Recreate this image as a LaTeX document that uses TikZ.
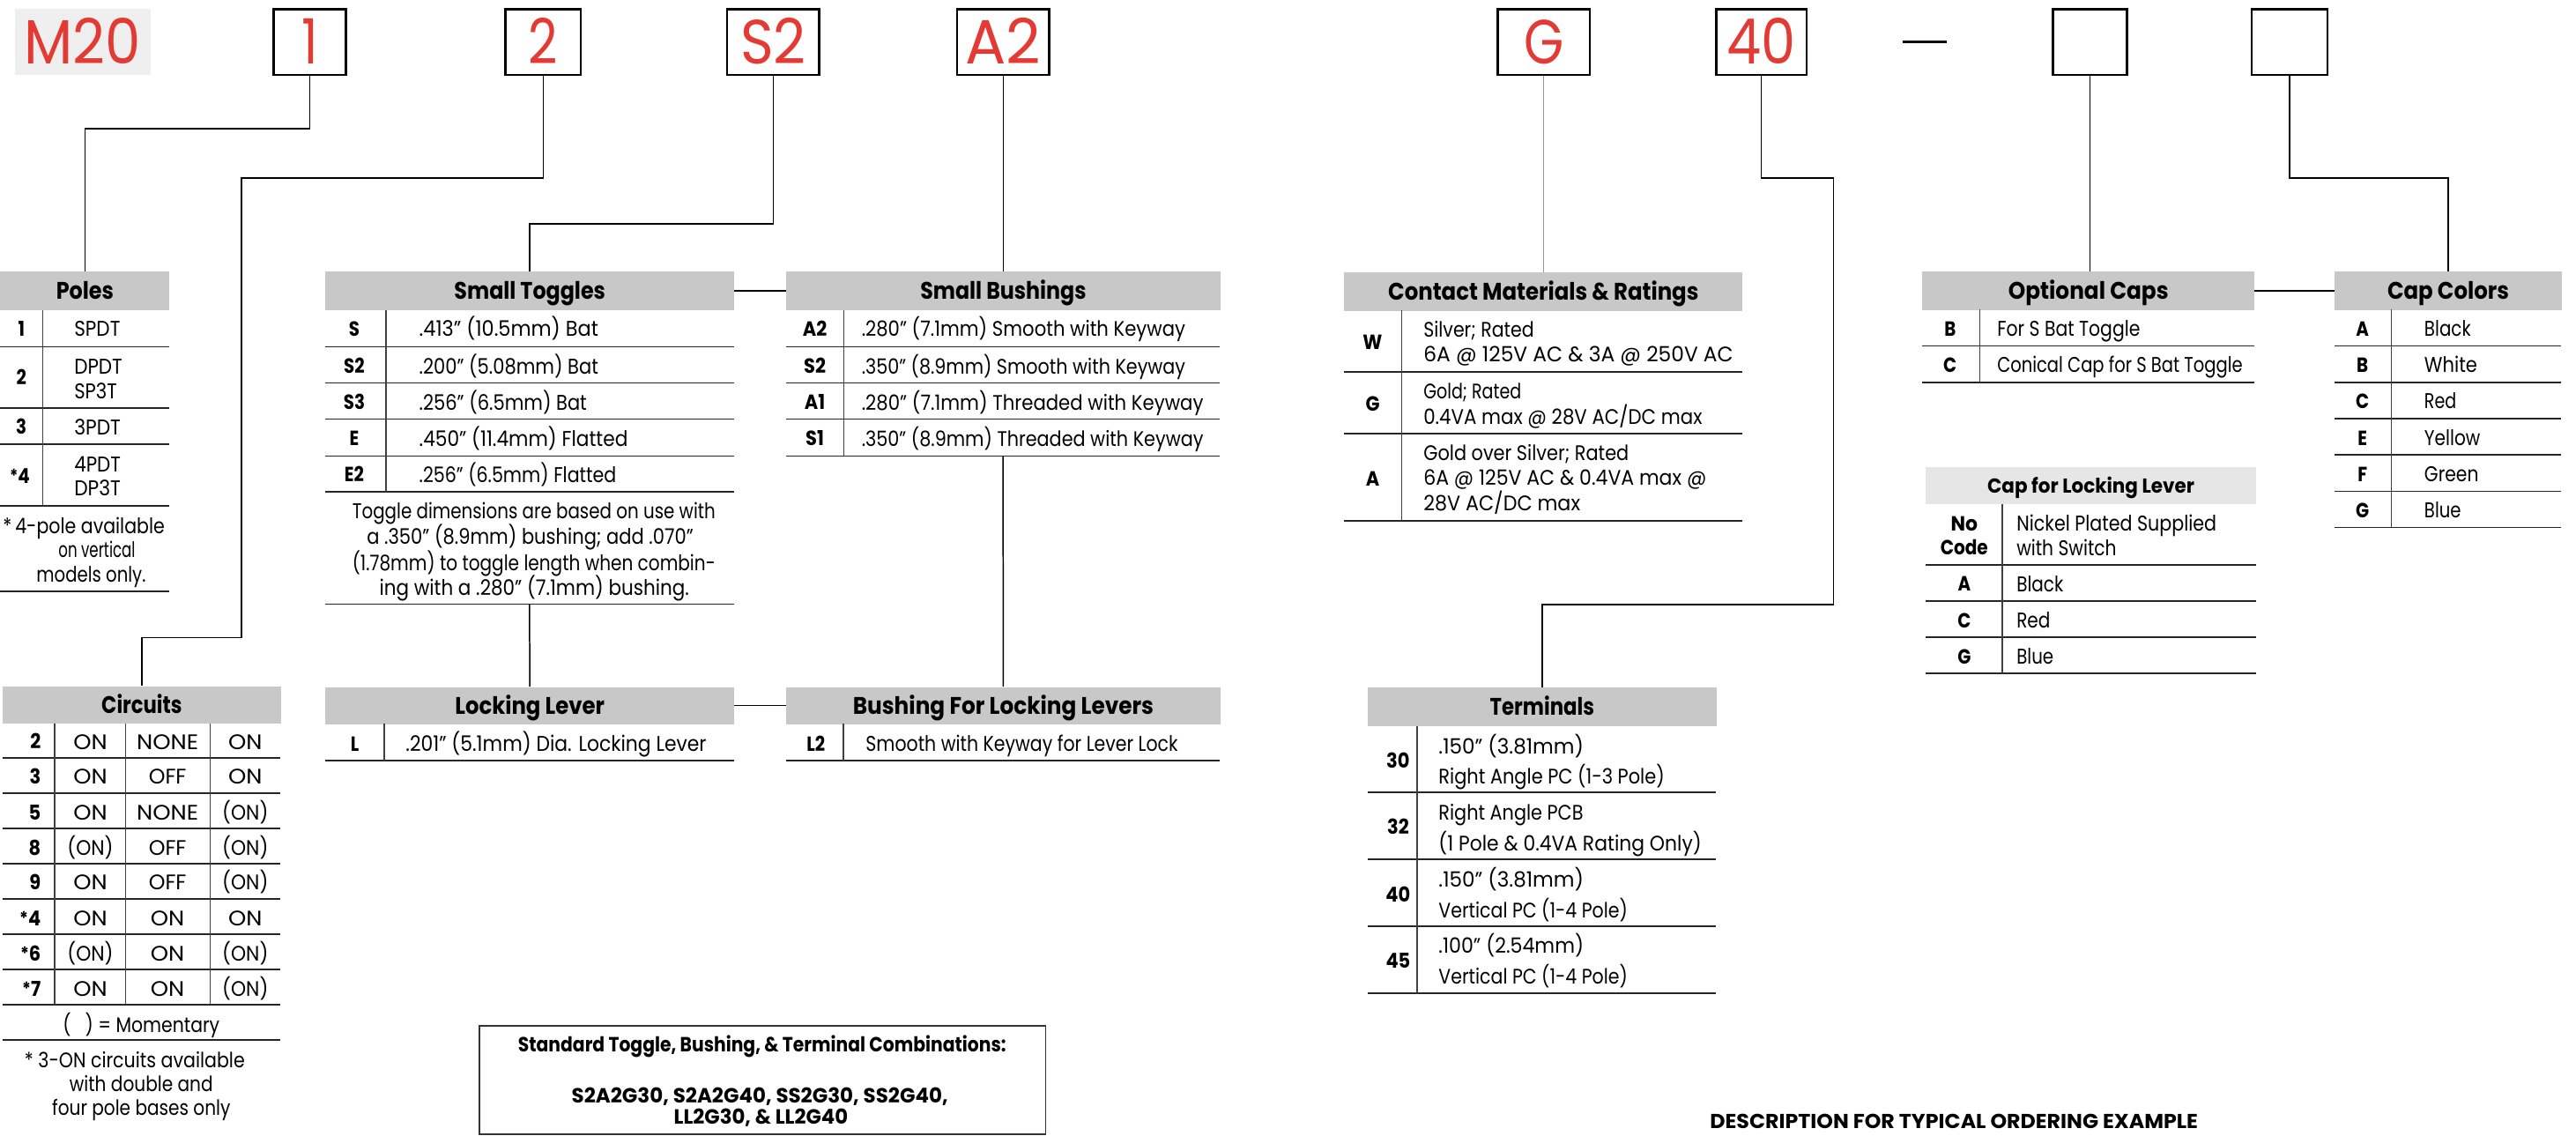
\documentclass[tikz,border=0pt]{standalone}
\usepackage{fontspec}
\usepackage{graphicx}
\setmainfont{Poppins}
\newfontfamily\fN[FakeStretch=0.9]{Poppins}
\newfontfamily\fC[FakeStretch=0.85]{Poppins}
\newfontfamily\fR[FakeStretch=0.82]{Poppins}
\newcommand\dq{\iffontchar\font"2033 \char"2033\else ”\fi}
\newcommand\stA{\raisebox{0.5pt}{\fontsize{11}{11}\selectfont*}}
\newsavebox\fitbx
\newcommand\fitw[2]{\sbox\fitbx{#2}\pgfmathsetmacro\fitr{#1/\the\wd\fitbx}\scalebox{\fitr}[1]{\usebox\fitbx}}
\newcommand\cON{\fitw{20.6}{ON}}
\newcommand\cNONE{\fitw{37.6}{NONE}}
\newcommand\cOFF{\fitw{22.9}{OFF}}
\newcommand\cPON{\fitw{28}{(ON)}}
\definecolor{hdrgray}{RGB}{200,200,200}
\definecolor{hdrlight}{RGB}{230,230,230}
\definecolor{mbg}{RGB}{239,239,239}
\definecolor{cred}{RGB}{228,58,52}
\definecolor{lgray}{RGB}{150,150,150}
\tikzset{
  topbox/.style={draw=black, line width=1.3pt, minimum height=40pt, inner sep=0pt, anchor=north west, font=\fontsize{38}{38}\fR, text=cred, text height=26.5pt, text depth=0pt},
  hdr/.style={fill=hdrgray, inner sep=0pt, anchor=north west, minimum height=23.5pt, font=\fontsize{14.6}{14.6}\fC\bfseries, text height=10.2pt, text depth=0pt},
  hdrN/.style={hdr, font=\fontsize{14.6}{14.6}\fN\bfseries},
  code/.style={inner sep=0pt, font=\fontsize{12.5}{12.5}\fC\bfseries, text height=8.8pt, text depth=0pt},
  codeN/.style={code, font=\fontsize{12.5}{12.5}\fN\bfseries},
  dC/.style={inner sep=0pt, anchor=west, font=\fontsize{13}{13}\fC, text height=9.1pt, text depth=0pt},
  dN/.style={inner sep=0pt, anchor=west, font=\fontsize{12.8}{12.8}\fN, text height=9pt, text depth=0pt},
  rl/.style={line width=0.9pt, black!85},
  dv/.style={line width=0.8pt, black!75},
  conn/.style={line width=0.8pt, black},
}
\begin{document}
\begin{tikzpicture}[x=1pt,y=-1pt]
\useasboundingbox (0,0) rectangle (1568,691);
\fill[white] (0,0) rectangle (1568,691);

% ---------- top row ----------
\node[topbox, draw=none, fill=mbg, minimum width=82.5pt, minimum height=40.2pt] (m20) at (8.5,4.8) {\fitw{71}{M20}};
\node[topbox, minimum width=44pt] (b1) at (166,5) {1};
\node[topbox, minimum width=46pt] (b2) at (307,5) {2};
\node[topbox, minimum width=56pt] (bS2) at (442,5) {\fitw{40}{S2}};
\node[topbox, minimum width=56pt] (bA2) at (582,5) {\fitw{46}{A2}};
\node[topbox, minimum width=56pt] (bG) at (911,5) {G};
\node[topbox, minimum width=55pt] (b40) at (1044,5) {\fitw{42}{40}};
\node[inner sep=0pt] (dash) at (1171.5,25.6) {\rule{27pt}{1.6pt}};
\node[topbox, minimum width=45pt] (bX1) at (1249,5) {};
\node[topbox, minimum width=46pt] (bX2) at (1370,5) {};

% ---------- headers ----------
\node[hdr, minimum width=103pt] (hPoles) at (0,165) {\fitw{35}{Poles}};
\node[hdr, minimum width=248.6pt] (hTog) at (198,165) {\fitw{92}{Small Toggles}};
\node[hdrN, minimum width=264pt] (hBush) at (478.5,165) {\fitw{101}{Small Bushings}};
\node[hdrN, minimum width=242.5pt, minimum height=23.2pt] (hCon) at (818,165.8) {\fitw{189}{Contact Materials \& Ratings}};
\node[hdr, minimum width=202pt] (hOpt) at (1170,165) {\fitw{97.5}{Optional Caps}};
\node[hdr, minimum width=138pt] (hCol) at (1421,165) {\fitw{74}{Cap Colors}};
\node[hdr, fill=hdrlight, minimum width=201pt, minimum height=22.3pt, font=\fontsize{12.3}{12.3}\fC\bfseries, text height=8.6pt] (hCapL) at (1172,284.3) {\fitw{126}{Cap for Locking Lever}};
\node[hdrN, minimum width=169.4pt, minimum height=22.8pt] (hCir) at (1.4,417.5) {\fitw{49}{Circuits}};
\node[hdr, minimum width=248.6pt, minimum height=22.5pt] (hLock) at (198,418) {\fitw{91}{Locking Lever}};
\node[hdr, minimum width=264pt, minimum height=22.5pt] (hLB) at (478.5,418) {\fitw{183}{Bushing For Locking Levers}};
\node[hdrN, minimum width=212pt, minimum height=23.6pt] (hTer) at (832.5,418.4) {\fitw{63.5}{Terminals}};

% ---------- connectors ----------
\coordinate (j2) at (147,388);
\coordinate (j40) at (1116,368);
\coordinate (tglBot) at (322.3,367.8);
\coordinate (bushBot) at (610.5,277.6);
\draw[conn] (b1.south) -- ++(0,32) -| (hPoles.north);
\draw[conn] (b2.south) -- ++(0,62) -| (j2) -| (hCir.north);
\draw[conn] (bS2.south) -- ++(0,90) -| (hTog.north);
\draw[conn] (bA2.south) -- (bA2.south |- hBush.north);
\draw[conn, lgray, line width=0.6pt] (bG.south) -- (bG.south |- hCon.north);
\draw[conn] (b40.south) -- ++(0,62) -| (j40) -| (hTer.north);
\draw[conn] (bX1.south) -- (bX1.south |- hOpt.north);
\draw[conn] (bX2.south) -- ++(0,62) -| (hCol.north);
\draw[conn] (hTog.east) -- (hBush.west);
\draw[conn] (hOpt.east) -- (hCol.west);
\draw[conn] (hLock.east) -- (hLB.west);
\draw[conn] (tglBot) -- (hLock.north);
\draw[conn] (bushBot) -- (hLB.north);

% ---------- Poles ----------
\node[code] (p1c) at (13,200) {1};
\node[dC] (p1d) at (45,200) {\fitw{28}{SPDT}};
\draw[rl] (0,211) -- (103,211);
\node[code] (p2c) at (13,230) {2};
\node[dC] (p2d) at (45,223) {\fitw{29.3}{DPDT}};
\node[dC] (p2e) at (45,238) {\fitw{26}{SP3T}};
\draw[rl] (0,248.5) -- (103,248.5);
\node[code] (p3c) at (13,260) {3};
\node[dC] (p3d) at (45,260) {\fitw{28.3}{3PDT}};
\draw[rl] (0,270.4) -- (103,270.4);
\node[code] (p4c) at (12,290) {\stA4};
\node[dC] (p4d) at (45,282.6) {\fitw{28.3}{4PDT}};
\node[dC] (p4e) at (45,297.4) {\fitw{28.3}{DP3T}};
\draw[rl] (0,308) -- (103,308);
\draw[dv] (26,188.7) -- (26,308);
\node[dC, anchor=center] (pn1) at (51,320) {\fitw{98.5}{*\,4-pole available}};
\node[dC, anchor=center] (pn2) at (59,335) {\fitw{46.8}{on vertical}};
\node[dC, anchor=center] (pn3) at (55.5,350) {\fitw{66.5}{models only.}};
\draw[rl] (0,360) -- (103,360);

% ---------- Small Toggles ----------
\node[code] (t1c) at (215.6,200) {S};
\node[dC] (t1d) at (255,200) {\fitw{109}{.413\dq{} (10.5mm) Bat}};
\node[code] (t2c) at (215.6,223) {S2};
\node[dC] (t2d) at (255,223) {\fitw{109}{.200\dq{} (5.08mm) Bat}};
\node[code] (t3c) at (215.6,245) {S3};
\node[dC] (t3d) at (255,245) {\fitw{102}{.256\dq{} (6.5mm) Bat}};
\node[code] (t4c) at (215.6,267) {E};
\node[dC] (t4d) at (255,267) {\fitw{127}{.450\dq{} (11.4mm) Flatted}};
\node[code] (t5c) at (215.6,289) {E2};
\node[dC] (t5d) at (255,289) {\fitw{120}{.256\dq{} (6.5mm) Flatted}};
\foreach \yy in {211,233,255,277.6,299.5} \draw[rl] (198,\yy) -- (446.6,\yy);
\draw[dv] (235,188.7) -- (235,299.5);
\node[dC, anchor=center] (tn1) at (325,311.3) {\fitw{221}{Toggle dimensions are based on use with}};
\node[dC, anchor=center] (tn2) at (322.7,326.8) {\fitw{198.7}{a .350\dq{} (8.9mm) bushing; add .070\dq}};
\node[dC, anchor=center] (tn3) at (325,342.6) {\fitw{221}{(1.78mm) to toggle length when combin-}};
\node[dC, anchor=center] (tn4) at (325.2,357.8) {\fitw{188.5}{ing with a .280\dq{} (7.1mm) bushing.}};
\draw[rl] (198,367.8) -- (446.6,367.8);

% ---------- Small Bushings ----------
\node[codeN] (s1c) at (496,200) {A2};
\node[dN] (s1d) at (524.3,200) {\fitw{197}{.280\dq{} (7.1mm) Smooth with Keyway}};
\node[codeN] (s2c) at (496,223) {S2};
\node[dN] (s2d) at (524.3,223) {\fitw{197}{.350\dq{} (8.9mm) Smooth with Keyway}};
\node[codeN] (s3c) at (496,245) {A1};
\node[dN] (s3d) at (524.3,245) {\fitw{208}{.280\dq{} (7.1mm) Threaded with Keyway}};
\node[codeN] (s4c) at (496,267) {S1};
\node[dN] (s4d) at (524.3,267) {\fitw{208}{.350\dq{} (8.9mm) Threaded with Keyway}};
\foreach \yy in {211,233,255,277.6} \draw[rl] (478.5,\yy) -- (742.4,\yy);
\draw[dv] (513.5,188.7) -- (513.5,277.6);

% ---------- Contact Materials ----------
\node[codeN] (k1c) at (835.5,208.3) {W};
\node[dN] (k1d) at (866.3,200.8) {\fitw{67.3}{Silver; Rated}};
\node[dN] (k1e) at (866.3,215.8) {\fitw{188.5}{6A @ 125V AC \& 3A @ 250V AC}};
\node[codeN] (k2c) at (835.5,246) {G};
\node[dN] (k2d) at (866.3,238.4) {\fitw{59.5}{Gold; Rated}};
\node[dN] (k2e) at (866.3,253.6) {\fitw{169.6}{0.4VA max @ 28V AC/DC max}};
\node[codeN] (k3c) at (835.5,291.5) {A};
\node[dN] (k3d) at (866.3,275.7) {\fitw{125}{Gold over Silver; Rated}};
\node[dN] (k3e) at (866.3,291) {\fitw{172.2}{6A @ 125V AC \& 0.4VA max @}};
\node[dN] (k3f) at (866.3,306.6) {\fitw{95.4}{28V AC/DC max}};
\foreach \yy in {226.5,264,317} \draw[rl] (818,\yy) -- (1060.5,\yy);
\draw[dv] (853.3,189) -- (853.3,317);

% ---------- Optional Caps ----------
\node[code] (o1c) at (1187,200.3) {B};
\node[dC] (o1d) at (1215.5,200.3) {\fitw{87}{For S Bat Toggle}};
\node[code] (o2c) at (1187,222.2) {C};
\node[dC] (o2d) at (1215.5,222.2) {\fitw{149.4}{Conical Cap for S Bat Toggle}};
\foreach \yy in {210.6,232.8} \draw[rl] (1170,\yy) -- (1372,\yy);
\draw[dv] (1205,188.5) -- (1205,232.8);

% ---------- Cap Colors ----------
\foreach \yy/\cc/\nn/\ww [count=\i] in {200.3/A/Black/28.3,222.2/B/White/32.2,244.1/C/Red/19.5,266.8/E/Yellow/34,288.8/F/Green/33,310.8/G/Blue/22.3}{
  \node[code] (cc\i) at (1438,\yy) {\cc};
  \node[dC] (cn\i) at (1475.5,\yy) {\fitw{\ww}{\nn}};
}
\foreach \yy in {210.6,232.8,254.8,276.8,299,321} \draw[rl] (1421,\yy) -- (1559,\yy);
\draw[dv] (1455.6,188.5) -- (1455.6,321);

% ---------- Cap for Locking Lever ----------
\node[code] (l0a) at (1195.6,318.6) {\fitw{16.4}{No}};
\node[code] (l0b) at (1195.6,333.5) {\fitw{29}{Code}};
\node[dC] (l0d) at (1227.3,318.6) {\fitw{121.7}{Nickel Plated Supplied}};
\node[dC] (l0e) at (1227.3,333.5) {\fitw{60.8}{with Switch}};
\node[code] (l1c) at (1195.6,355.5) {A};
\node[dC] (l1d) at (1227.3,355.5) {\fitw{28.5}{Black}};
\node[code] (l2c) at (1195.6,377.7) {C};
\node[dC] (l2d) at (1227.3,377.7) {\fitw{20.5}{Red}};
\node[code] (l3c) at (1195.6,399.7) {G};
\node[dC] (l3d) at (1227.3,399.7) {\fitw{22.5}{Blue}};
\foreach \yy in {343.7,365.7,388,409.8} \draw[rl] (1172,\yy) -- (1373,\yy);
\draw[dv] (1218.8,306.6) -- (1218.8,409.8);

% ---------- Circuits ----------
\foreach \yy/\kk/\aa/\bb/\cc [count=\i] in {451.5/2/\cON/\cNONE/\cON,472.8/3/\cON/\cOFF/\cON,494.6/5/\cON/\cNONE/\cPON,516/8/\cPON/\cOFF/\cPON,537/9/\cON/\cOFF/\cPON,559/\stA4/\cON/\cON/\cON,580.5/\stA6/\cPON/\cON/\cPON,602/\stA7/\cON/\cON/\cPON}{
  \node[codeN, anchor=east] (ck\i) at (25,\yy) {\kk};
  \node[dN, anchor=center] (ca\i) at (55,\yy) {\aa};
  \node[dN, anchor=center] (cb\i) at (102,\yy) {\bb};
  \node[dN, anchor=center] (cx\i) at (149.3,\yy) {\cc};
}
\foreach \yy in {461.4,482.8,504.2,525.7,547.2,568.7,590.1,611.6,633} \draw[rl] (1.4,\yy) -- (170.8,\yy);
\foreach \xx in {33.3,76.5,127.9} \draw[dv] (\xx,440.3) -- (\xx,611.6);
\node[dN, anchor=center] (cmom) at (86,624) {\fitw{95.3}{(\hspace{9pt}) = Momentary}};
\node[dN, anchor=center] (cf1) at (82,645.5) {\fitw{134}{* 3-ON circuits available}};
\node[dN, anchor=center] (cf2) at (86,660) {\fitw{87.3}{with double and}};
\node[dN, anchor=center] (cf3) at (86,674.2) {\fitw{108.5}{four pole bases only}};

% ---------- Locking Lever ----------
\node[code] (llc) at (216,453) {L};
\node[dC] (lld) at (246.8,453) {\fitw{183}{.201\dq{} (5.1mm) Dia. Locking Lever}};
\draw[rl] (198,463) -- (446.6,463);
\draw[dv] (233.8,440.5) -- (233.8,463);
\node[code] (lbc) at (496.6,453) {L2};
\node[dC] (lbd) at (526.8,453) {\fitw{190}{Smooth with Keyway for Lever Lock}};
\draw[rl] (478.5,463) -- (742.4,463);
\draw[dv] (513.3,440.5) -- (513.3,463);

% ---------- Terminals ----------
\node[codeN] (r1c) at (851,463) {30};
\node[dN] (r1d) at (875.5,454.2) {\fitw{88.3}{.150\dq{} (3.81mm)}};
\node[dN] (r1e) at (875.5,472.6) {\fitw{137.5}{Right Angle PC (1-3 Pole)}};
\node[codeN] (r2c) at (851,503.4) {32};
\node[dN] (r2d) at (875.5,494.8) {\fitw{88}{Right Angle PCB}};
\node[dN] (r2e) at (875.5,513.5) {\fitw{160}{(1 Pole \& 0.4VA Rating Only)}};
\node[codeN] (r3c) at (851,544.5) {40};
\node[dN] (r3d) at (875.5,535.5) {\fitw{88.3}{.150\dq{} (3.81mm)}};
\node[dN] (r3e) at (875.5,554) {\fitw{115}{Vertical PC (1-4 Pole)}};
\node[codeN] (r4c) at (851,585) {45};
\node[dN] (r4d) at (875.5,575.8) {\fitw{88.3}{.100\dq{} (2.54mm)}};
\node[dN] (r4e) at (875.5,594.5) {\fitw{115}{Vertical PC (1-4 Pole)}};
\foreach \yy in {482.4,523,563.8,604.4} \draw[rl] (832.5,\yy) -- (1044.5,\yy);
\draw[dv] (862.6,442) -- (862.6,604.4);

% ---------- combinations box ----------
\node[draw=black!80, line width=1pt, minimum width=344.6pt, minimum height=66.3pt, anchor=north west, inner sep=0pt] (combo) at (291.4,623.7) {};
\node[code] (cm1) at (463.9,635.7) {\fitw{297}{Standard Toggle, Bushing, \& Terminal Combinations:}};
\node[code] (cm2) at (462.5,667) {\fitw{229}{S2A2G30, S2A2G40, SS2G30, SS2G40,}};
\node[code] (cm3) at (463.2,680) {\fitw{106}{LL2G30, \& LL2G40}};

% ---------- caption ----------
\node[code, anchor=west, font=\fontsize{12.3}{12.3}\fC\bfseries, text height=8.6pt] (desc) at (1040.7,682.7) {\fitw{297}{DESCRIPTION FOR TYPICAL ORDERING EXAMPLE}};
\end{tikzpicture}
\end{document}
